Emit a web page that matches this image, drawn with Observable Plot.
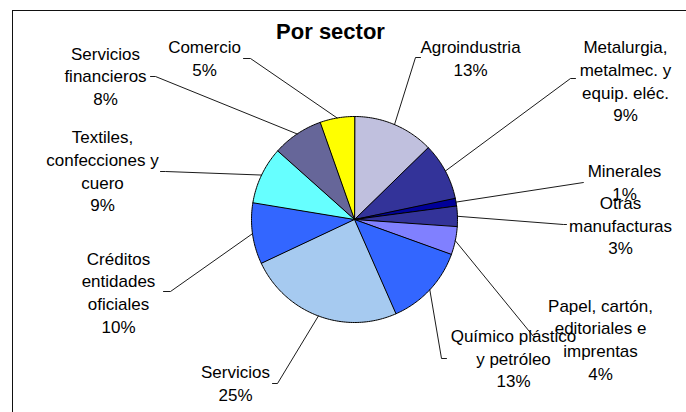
<!DOCTYPE html>
<html><head><meta charset="utf-8">
<script src="https://cdn.jsdelivr.net/npm/d3@7"></script>
<script src="https://cdn.jsdelivr.net/npm/@observablehq/plot@0.6"></script>
<style>
html,body{margin:0;padding:0;background:#fff;overflow:hidden}
#wrap{position:relative;width:686px;height:412px;overflow:hidden}
#wrap svg{position:absolute;left:0;top:0}
#border{position:absolute;left:12px;top:10px;width:720px;height:440px;border:1.5px solid #111;box-sizing:border-box;pointer-events:none}
</style></head><body>
<div id="wrap"><div id="border"></div></div>
<script>
// ---- data ----
const chartTitle = "Por sector";
const sectors = [
  "Agroindustria",
  "Metalurgia,\nmetalmec. y\nequip. eléc.",
  "Minerales",
  "Otras\nmanufacturas",
  "Papel, cartón,\neditoriales e\nimprentas",
  "Químico plástico\ny petróleo",
  "Servicios",
  "Créditos\nentidades\noficiales",
  "Textiles,\nconfecciones y\ncuero",
  "Servicios\nfinancieros",
  "Comercio"
];
const shares = [12.7, 9.0, 1.2, 3.2, 4.4, 12.9, 24.6, 9.6, 9.0, 8.0, 5.4];
const percentLabels = ["13%", "9%", "1%", "3%", "4%", "13%", "25%", "10%", "9%", "8%", "5%"];
const colors = ["#C0C0DE", "#333399", "#000099", "#333399", "#8080FF", "#3366FF",
                "#A6CAF0", "#3366FF", "#66FFFF", "#666699", "#FFFF00"];

// ---- layout (pixels) ----
const cx = 354, cy = 219, R = 103;
const labelPos = [[470,56.5],[625,79.5],[624,181],[620,224],[600,338],[513,357],[235,381.5],[118,291],[102,169.5],[105,74.5],[204,57]];
const leaderElbow = [[415,57],[570,78],[583,182],[563,224],[533,336],[441,358],[277,383],[170,291],[165,171],[155,76],[250,58]];
const leaderEnd   = [[420,57],[575,78],[583,182],[566,224],[538,336],[446,358],[272,383],[163,291],[160,171],[150,76],[243,58]];

const total = d3.sum(shares);
const slicePts = [];
const leaderPts = [];
let acc = 0;
shares.forEach((v, i) => {
  const a0 = acc / total * 2 * Math.PI, a1 = (acc + v) / total * 2 * Math.PI;
  acc += v;
  slicePts.push({id: i, x: cx, y: cy, color: colors[i]});
  const n = Math.max(2, Math.ceil((a1 - a0) / (Math.PI / 180)));
  for (let k = 0; k <= n; k++) {
    const a = a0 + (a1 - a0) * k / n;
    slicePts.push({id: i, x: cx + R * Math.sin(a), y: cy - R * Math.cos(a), color: colors[i]});
  }
  const am = (a0 + a1) / 2;
  leaderPts.push({id: i, x: cx + R * Math.sin(am), y: cy - R * Math.cos(am)});
  leaderPts.push({id: i, x: leaderElbow[i][0], y: leaderElbow[i][1]});
  leaderPts.push({id: i, x: leaderEnd[i][0], y: leaderEnd[i][1]});
});
const labels = sectors.map((s, i) => ({text: s + "\n" + percentLabels[i], x: labelPos[i][0], y: labelPos[i][1]}));

const font = "'Liberation Sans', Arial, Helvetica, sans-serif";
const chart = Plot.plot({
  width: 686, height: 412,
  margin: 0,
  x: {domain: [0, 686], range: [0, 686], axis: null},
  y: {domain: [0, 412], range: [0, 412], axis: null},
  style: {fontFamily: font, background: "transparent"},
  marks: [
    Plot.line(slicePts, {x: "x", y: "y", z: "id", fill: "color", stroke: "#000", strokeWidth: 1, curve: "linear-closed", strokeLinejoin: "round"}),
    Plot.line(leaderPts, {x: "x", y: "y", z: "id", stroke: "#000", strokeWidth: 0.9}),
    Plot.text(labels, {x: "x", y: "y", text: "text", fontSize: 17, lineHeight: 1.33, fill: "#000", fontFamily: font}),
    Plot.text([chartTitle], {x: () => 330, y: () => 31, text: d => d, fontSize: 22, fontWeight: "bold", fill: "#000", fontFamily: font})
  ]
});
document.getElementById("wrap").insertBefore(chart, document.getElementById("border"));
</script>
</body></html>
